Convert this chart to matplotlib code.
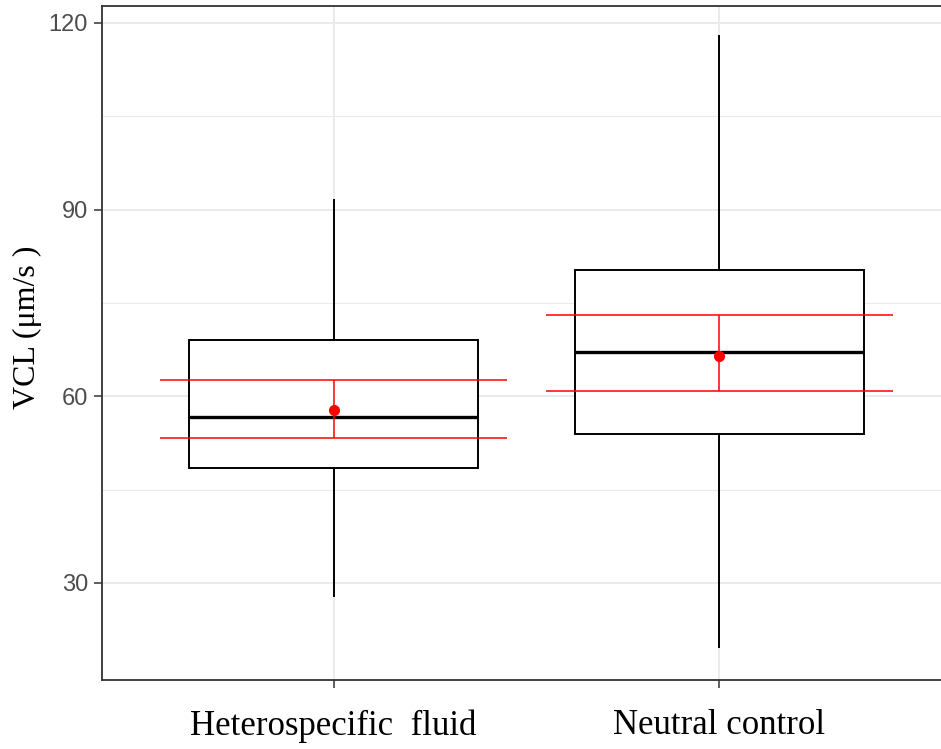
import numpy as np
import matplotlib as mpl
mpl.use('Agg')
import matplotlib.pyplot as plt

groups = ["Heterospecific  fluid", "Neutral control"]
whislo = [27.9, 19.7]
q1     = [48.4, 54.0]
med    = [56.7, 67.1]
q3     = [69.1, 80.3]
whishi = [91.6, 117.8]
mean   = [57.8, 66.5]
ci_lo  = [53.3, 60.9]
ci_hi  = [62.6, 73.1]

W, H = 941, 749
fig = plt.figure(figsize=(W/100, H/100), dpi=100)
# panel: left 102 px, bottom 680 px, top 6 px, right beyond the crop
ax = fig.add_axes([102/W, (H-680)/H, 849/W, 674/H])

stats = []
for i in range(2):
    stats.append(dict(whislo=whislo[i], q1=q1[i], med=med[i], q3=q3[i],
                      whishi=whishi[i], fliers=[]))
ax.bxp(stats, positions=[1, 2], widths=0.75, showcaps=False, showfliers=False,
       patch_artist=True,
       boxprops=dict(facecolor='white', edgecolor='black', linewidth=1.4),
       whiskerprops=dict(color='black', linewidth=1.4),
       medianprops=dict(color='black', linewidth=2.4),
       zorder=3)

x = np.array([1, 2])
mean = np.array(mean)
ax.errorbar(x, mean, yerr=[mean - np.array(ci_lo), np.array(ci_hi) - mean],
            fmt='o', color='red', ms=7, elinewidth=1.1, capsize=0, zorder=4)
ax.hlines(ci_lo, x - 0.45, x + 0.45, color='red', lw=1.1, zorder=4)
ax.hlines(ci_hi, x - 0.45, x + 0.45, color='red', lw=1.1, zorder=4)

ax.set_xlim(0.4, 2.6)
ax.set_ylim(14.4, 122.7)
ax.set_yticks([30, 60, 90, 120])
ax.set_yticks([45, 75, 105], minor=True)
ax.set_xticks([1, 2])
ax.set_xticklabels(groups, fontfamily='Liberation Serif', fontsize=25, color='black')
ax.tick_params(axis='x', which='major', length=6, width=1.1, color='#333333', pad=15)
ax.tick_params(axis='y', which='major', length=6, width=1.1, color='#333333',
               labelsize=17, labelcolor='#4D4D4D', pad=4)
ax.tick_params(axis='y', which='minor', length=0)
for t in ax.get_yticklabels():
    t.set_fontfamily('Liberation Sans')

ax.grid(True, which='major', color='#EBEBEB', lw=1.4, zorder=0)
ax.grid(True, which='minor', axis='y', color='#EBEBEB', lw=0.8, zorder=0)
ax.set_axisbelow(True)
for s in ax.spines.values():
    s.set_color('#333333')
    s.set_linewidth(1.3)

ax.set_ylabel("VCL (\u03bcm/s )", fontfamily='Liberation Serif', fontsize=23)
ax.yaxis.set_label_coords(-0.071, 0.523)

plt.savefig("out.png", dpi=100)
